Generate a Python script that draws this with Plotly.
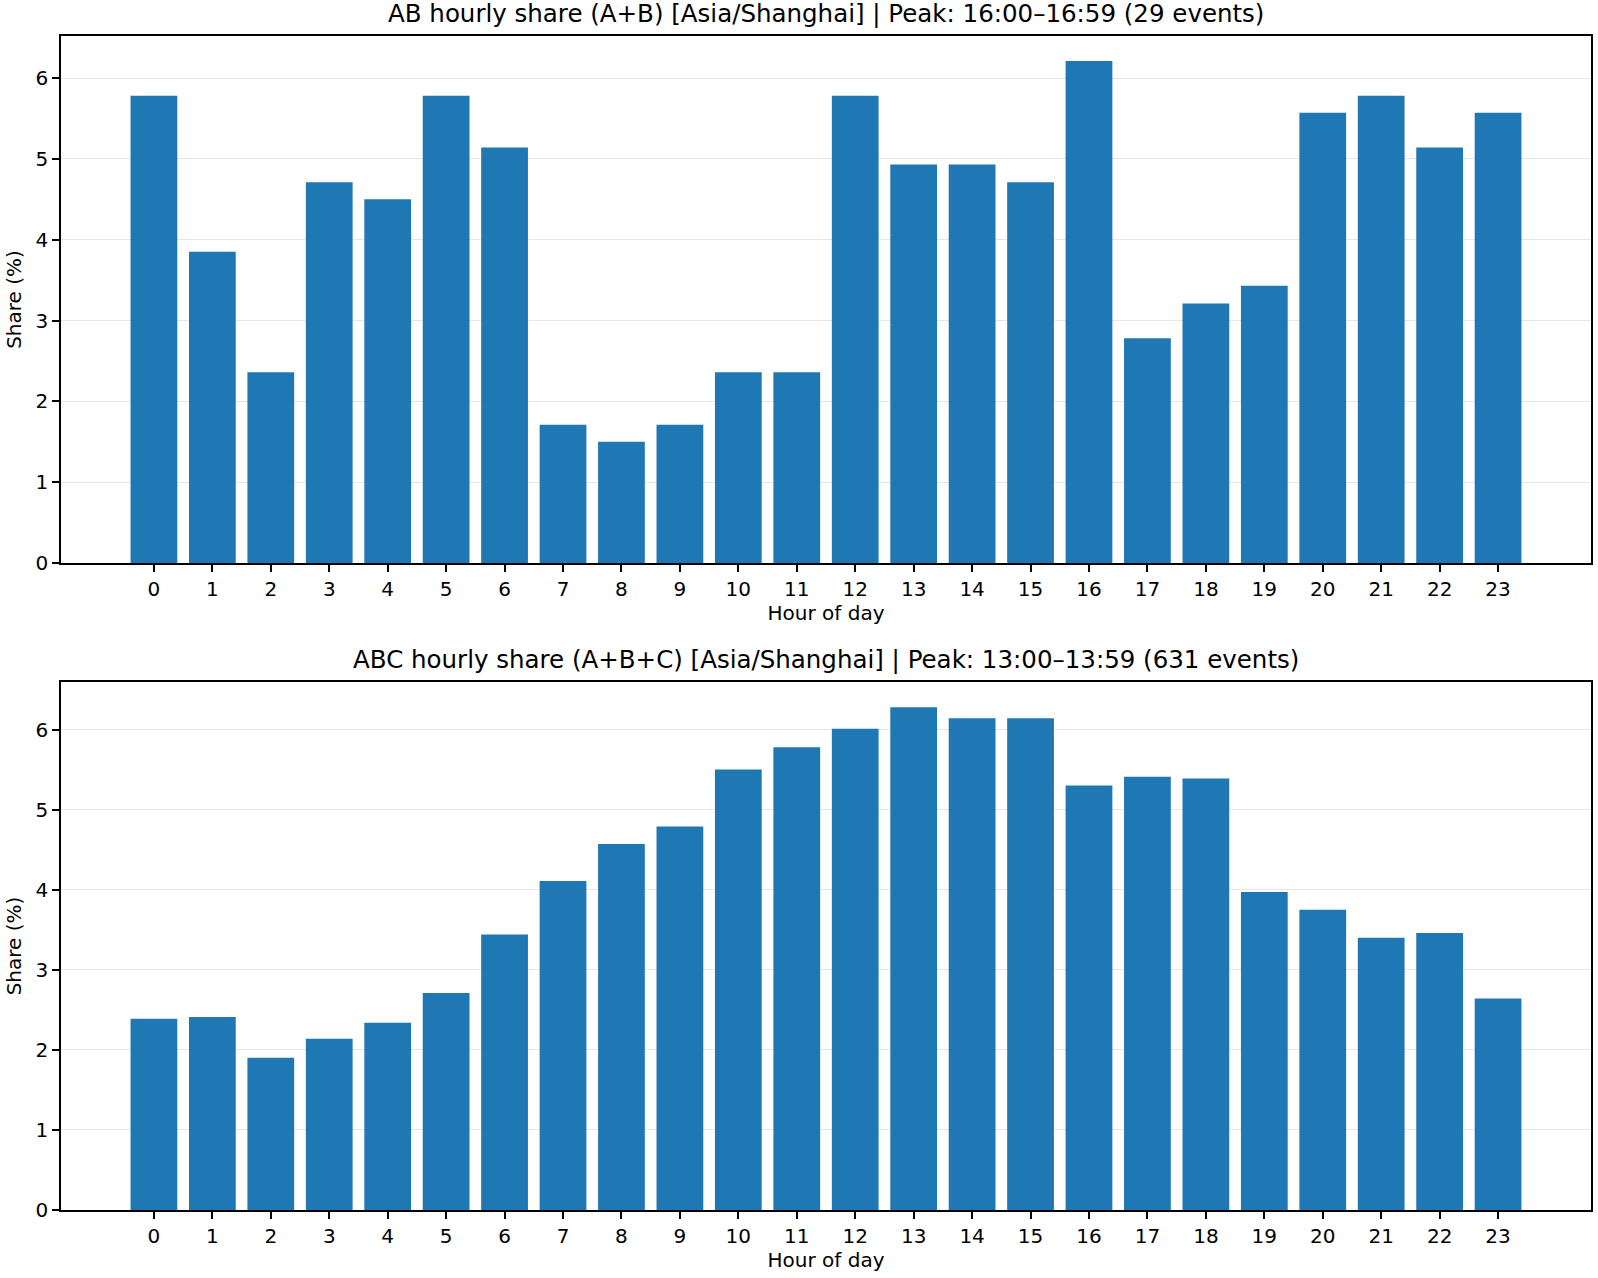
import plotly.graph_objects as go
from plotly.subplots import make_subplots

hours = list(range(24))
hour_labels = [str(h) for h in hours]

ab_share = [5.78, 3.85, 2.36, 4.71, 4.50, 5.78, 5.14, 1.71, 1.50, 1.71, 2.36, 2.36,
            5.78, 4.93, 4.93, 4.71, 6.21, 2.78, 3.21, 3.43, 5.57, 5.78, 5.14, 5.57]
abc_share = [2.39, 2.41, 1.90, 2.14, 2.34, 2.71, 3.44, 4.11, 4.57, 4.79, 5.50, 5.78,
             6.01, 6.28, 6.14, 6.14, 5.30, 5.41, 5.39, 3.97, 3.75, 3.40, 3.46, 2.64]

title_ab = "AB hourly share (A+B) [Asia/Shanghai] | Peak: 16:00–16:59 (29 events)"
title_abc = "ABC hourly share (A+B+C) [Asia/Shanghai] | Peak: 13:00–13:59 (631 events)"
x_title = "Hour of day"
y_title = "Share (%)"
y_ticks = [0, 1, 2, 3, 4, 5, 6]

BAR = "#1f77b4"
FONT = "DejaVu Sans"

fig = make_subplots(rows=2, cols=1, vertical_spacing=0.1)
fig.add_trace(go.Bar(x=hours, y=ab_share, width=0.8, marker=dict(color=BAR, line=dict(width=0)),
                     showlegend=False), row=1, col=1)
fig.add_trace(go.Bar(x=hours, y=abc_share, width=0.8, marker=dict(color=BAR, line=dict(width=0)),
                     showlegend=False), row=2, col=1)

W, H = 1598, 1278
ml, mr, mt, mb = 61, 7, 36, 68
ph = H - mt - mb
top_dom = [(1210 - 563) / ph, 1.0]
bot_dom = [0.0, (1210 - 682) / ph]

axis_common = dict(showline=True, linecolor="black", linewidth=1.6, mirror=True,
                   ticks="outside", ticklen=7, tickwidth=1.6, tickcolor="black",
                   tickfont=dict(family=FONT, size=20, color="black"), automargin=False,
                   zeroline=False)

for r, dom, vals in [(1, top_dom, ab_share), (2, bot_dom, abc_share)]:
    fig.update_xaxes(row=r, col=1, range=[-1.59, 24.59], tickmode="array", tickvals=hours,
                     ticktext=hour_labels, showgrid=False,
                     title=dict(text=x_title, font=dict(family=FONT, size=20, color="black"), standoff=6),
                     **axis_common)
    fig.update_yaxes(row=r, col=1, domain=dom, range=[0, max(vals) * 1.05], tickmode="array",
                     tickvals=y_ticks, showgrid=True, gridcolor="#e6e6e6", gridwidth=1.4,
                     title=dict(text=y_title, font=dict(family=FONT, size=20, color="black"), standoff=8),
                     **axis_common)

annots = []
for t, dom in [(title_ab, top_dom), (title_abc, bot_dom)]:
    annots.append(dict(text=t, xref="paper", yref="paper", x=0.5, y=dom[1], xanchor="center",
                       yanchor="bottom", yshift=6, showarrow=False,
                       font=dict(family=FONT, size=24.5, color="black")))

fig.update_layout(width=W, height=H, margin=dict(l=ml, r=mr, t=mt, b=mb),
                  plot_bgcolor="white", paper_bgcolor="white", annotations=annots,
                  bargap=0.2, font=dict(family=FONT), hovermode=False)

fig.write_html("out.html", config={"displayModeBar": False},
               post_script="document.body.style.margin='0';document.body.style.overflow='hidden';")
